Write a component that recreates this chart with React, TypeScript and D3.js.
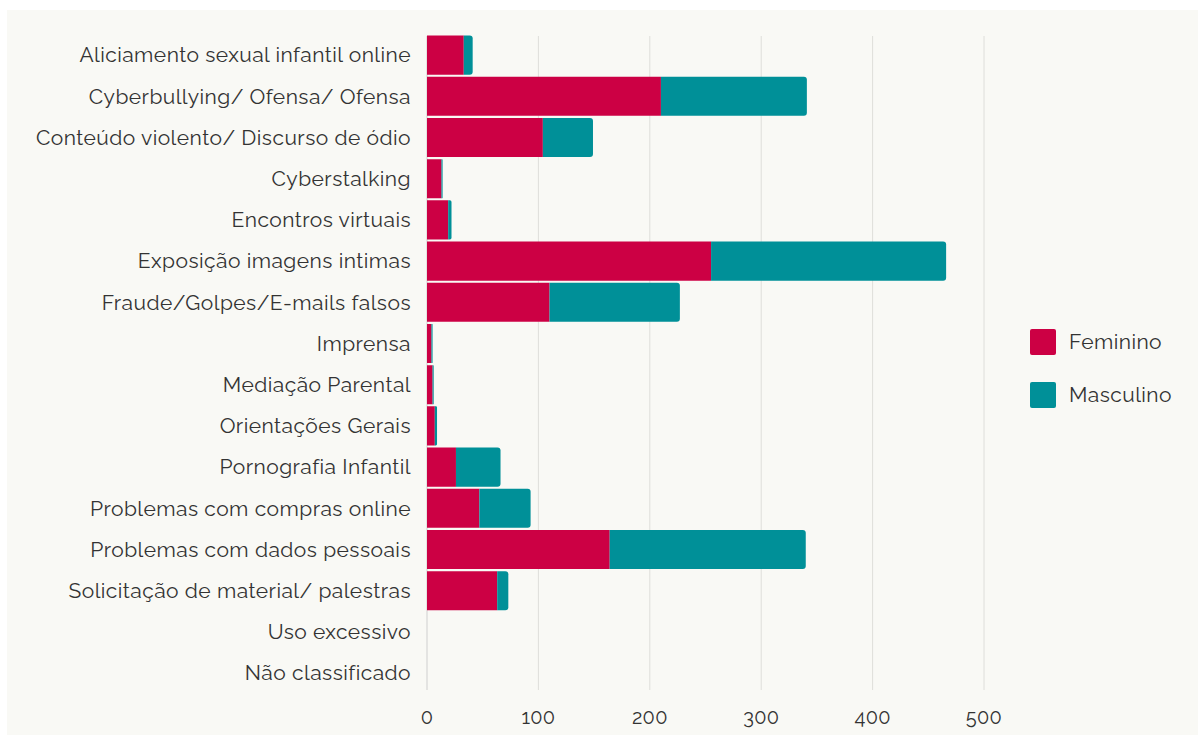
import * as d3 from 'd3'

const categories = [
  'Aliciamento sexual infantil online',
  'Cyberbullying/ Ofensa/ Ofensa',
  'Conteúdo violento/ Discurso de ódio',
  'Cyberstalking',
  'Encontros virtuais',
  'Exposição imagens intimas',
  'Fraude/Golpes/E-mails falsos',
  'Imprensa',
  'Mediação Parental',
  'Orientações Gerais',
  'Pornografia Infantil',
  'Problemas com compras online',
  'Problemas com dados pessoais',
  'Solicitação de material/ palestras',
  'Uso excessivo',
  'Não classificado',
]
const feminino = [33, 210, 104, 13, 19, 255, 110, 4, 5, 7, 26, 47, 164, 63, 0, 0]
const masculino = [8, 131, 45, 1, 3, 211, 117, 1, 1, 2, 40, 46, 176, 10, 0, 0]
const seriesNames = ['Feminino', 'Masculino']
const colors = ['#cc0044', '#009098']
const xTicks = [0, 100, 200, 300, 400, 500]

const W = 1198
const H = 745
const font = 'Raleway, Lato, sans-serif'

// rect with only the right corners rounded
function barPath(x0: number, x1: number, y: number, h: number, round: boolean) {
  const w = x1 - x0
  const r = round ? Math.min(3, w / 2, h / 2) : 0
  return `M${x0},${y}H${x1 - r}Q${x1},${y} ${x1},${y + r}V${y + h - r}Q${x1},${y + h} ${x1 - r},${y + h}H${x0}Z`
}

export default function App() {
  const x = d3.scaleLinear().domain([0, 500]).range([427, 984])
  const y = d3
    .scaleBand<string>()
    .domain(categories)
    .range([34.5, 34.5 + 16 * 41.2])
    .paddingInner(0.05)
    .paddingOuter(0.025)

  const rows = categories.map((c, i) => ({ c, vals: [feminino[i], masculino[i]] }))

  return (
    <svg width={W} height={H} style={{ position: 'absolute', left: 0, top: 0 }}>
      <rect x={0} y={0} width={W} height={H} fill="#ffffff" />
      <rect x={7} y={10} width={W - 7} height={725} fill="#f9f9f5" />
      {xTicks.map((t) => (
        <g key={t}>
          <line x1={x(t)} x2={x(t)} y1={36} y2={690} stroke={t === 0 ? '#cfcfcf' : '#dededa'} strokeWidth={1} />
          <text x={x(t)} y={724} textAnchor="middle" fontFamily={font} fontSize={20} letterSpacing={0.3} fill="#333">
            {t}
          </text>
        </g>
      ))}
      {rows.map((row) => {
        const yy = y(row.c) ?? 0
        const h = y.bandwidth()
        const total = d3.sum(row.vals)
        let acc = 0
        const lastIdx = row.vals.reduce((li, v, j) => (v > 0 ? j : li), -1)
        return (
          <g key={row.c}>
            <text
              x={411}
              y={yy + h / 2}
              dy="0.35em"
              textAnchor="end"
              fontFamily={font}
              fontSize={21}
              letterSpacing={0.45}
              fill="#333"
            >
              {row.c}
            </text>
            {total > 0 &&
              row.vals.map((v, j) => {
                const x0 = x(acc)
                acc += v
                const x1 = x(acc)
                if (v <= 0) return null
                return <path key={j} d={barPath(x0, x1, yy, h, j === lastIdx)} fill={colors[j]} />
              })}
          </g>
        )
      })}
      {seriesNames.map((s, i) => (
        <g key={s} transform={`translate(1030,${329 + i * 53})`}>
          <rect width={26} height={26} rx={2} fill={colors[i]} />
          <text x={39} y={13} dy="0.35em" fontFamily={font} fontSize={21} letterSpacing={0.45} fill="#333">
            {s}
          </text>
        </g>
      ))}
    </svg>
  )
}
